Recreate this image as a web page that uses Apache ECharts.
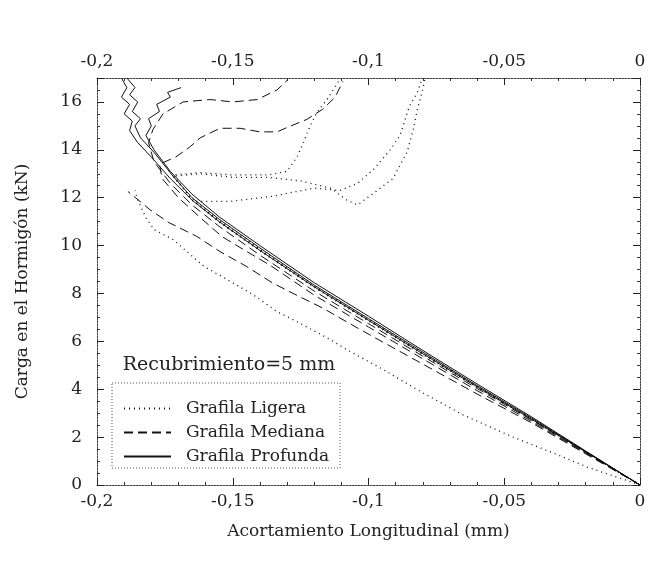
<!DOCTYPE html>
<html>
<head>
<meta charset="utf-8">
<script src="https://cdn.jsdelivr.net/npm/echarts@6/dist/echarts.min.js"></script>
<style>
  html, body { margin: 0; padding: 0; background: #fff; }
  #chart { width: 652px; height: 562px; }
</style>
</head>
<body>
<div id="chart"></div>
<script>
// ticks
var xTicks = [-0.2, -0.15, -0.1, -0.05, 0];
var yTicks = [0, 2, 4, 6, 8, 10, 12, 14, 16];
var legendNames = ['Grafila Ligera', 'Grafila Mediana', 'Grafila Profunda'];

// Grafila Ligera (dotted)
var ligera1 = [[0,0],[-0.0195,0.75],[-0.032,1.34],[-0.0468,2.0],[-0.0652,2.93],[-0.08,3.85],[-0.0958,4.9],[-0.108,5.65],[-0.114,6.07],[-0.1263,6.82],[-0.1337,7.24],[-0.1425,7.95],[-0.152,8.58],[-0.1605,9.12],[-0.1664,9.7],[-0.172,10.25],[-0.179,10.67],[-0.182,11.17],[-0.185,11.9],[-0.186,12.3]];
var ligera2 = [[0,0],[-0.02,1.39],[-0.04,2.78],[-0.06,4.12],[-0.08,5.5],[-0.1,6.9],[-0.12,8.3],[-0.14,9.85],[-0.155,11.05],[-0.165,11.95],[-0.172,12.95],[-0.162,13.05],[-0.15,12.95],[-0.137,12.95],[-0.13,13.1],[-0.1263,13.7],[-0.124,14.3],[-0.1215,15.0],[-0.119,15.56],[-0.1153,16.1],[-0.1105,16.95]];
var ligera3 = [[0,0],[-0.02,1.38],[-0.04,2.76],[-0.06,4.1],[-0.08,5.48],[-0.1,6.88],[-0.12,8.28],[-0.14,9.82],[-0.155,11.0],[-0.165,11.9],[-0.172,12.9],[-0.162,13.0],[-0.15,12.85],[-0.137,12.85],[-0.125,12.7],[-0.114,12.4],[-0.108,11.9],[-0.104,11.7],[-0.098,12.2],[-0.091,12.8],[-0.0858,13.9],[-0.0835,14.85],[-0.082,15.7],[-0.0803,16.4],[-0.0792,16.95]];
var ligera4 = [[0,0],[-0.02,1.37],[-0.04,2.74],[-0.06,4.08],[-0.08,5.45],[-0.1,6.85],[-0.12,8.25],[-0.14,9.78],[-0.155,10.98],[-0.164,11.85],[-0.151,11.85],[-0.136,12.05],[-0.12,12.4],[-0.1105,12.3],[-0.104,12.6],[-0.098,13.2],[-0.092,14.0],[-0.0884,14.6],[-0.085,15.8],[-0.082,16.4],[-0.0803,16.95]];

// Grafila Mediana (dashed)
var mediana1 = [[0,0],[-0.02,1.3],[-0.04,2.6],[-0.06,3.8],[-0.08,5.05],[-0.0976,6.15],[-0.1075,6.78],[-0.117,7.4],[-0.126,7.9],[-0.1355,8.45],[-0.1448,9.12],[-0.1547,9.75],[-0.1632,10.38],[-0.1735,10.96],[-0.1805,11.5],[-0.1886,12.26]];
var mediana2 = [[0,0],[-0.02,1.33],[-0.04,2.66],[-0.06,3.94],[-0.08,5.27],[-0.1,6.6],[-0.12,7.93],[-0.136,9.16],[-0.146,9.83],[-0.154,10.38],[-0.162,11.17],[-0.17,12.0],[-0.176,12.8],[-0.177,13.4],[-0.171,13.7],[-0.166,14.1],[-0.162,14.5],[-0.1547,14.9],[-0.1473,14.9],[-0.14,14.75],[-0.1337,14.75],[-0.129,14.98],[-0.1227,15.27],[-0.1168,15.7],[-0.1123,16.2],[-0.1094,16.86]];
var mediana3 = [[0,0],[-0.02,1.36],[-0.04,2.72],[-0.06,4.03],[-0.08,5.38],[-0.1,6.74],[-0.12,8.1],[-0.14,9.6],[-0.155,10.8],[-0.165,11.7],[-0.173,12.6],[-0.179,13.5],[-0.181,14.3],[-0.1794,14.85],[-0.1757,15.5],[-0.1683,16.0],[-0.1584,16.1],[-0.1499,16.0],[-0.141,16.1],[-0.1337,16.5],[-0.13,16.9]];

// Grafila Profunda (solid)
var profunda1 = [[0,0],[-0.02,1.4],[-0.04,2.8],[-0.06,4.15],[-0.08,5.55],[-0.1,6.95],[-0.12,8.35],[-0.14,9.9],[-0.155,11.1],[-0.165,12.0],[-0.172,12.9],[-0.179,13.9],[-0.184,14.5],[-0.186,15.0],[-0.184,15.3],[-0.187,15.6],[-0.185,16.0],[-0.188,16.3],[-0.186,16.6],[-0.189,17.0]];
var profunda2 = [[0,0],[-0.02,1.42],[-0.04,2.85],[-0.06,4.22],[-0.08,5.62],[-0.1,7.05],[-0.12,8.45],[-0.14,10.0],[-0.155,11.2],[-0.165,12.15],[-0.173,13.1],[-0.179,14.0],[-0.182,14.6],[-0.18,15.0],[-0.181,15.3],[-0.177,15.6],[-0.178,15.9],[-0.173,16.2],[-0.174,16.4],[-0.169,16.6]];
var profunda3 = [[0,0],[-0.02,1.38],[-0.04,2.75],[-0.06,4.1],[-0.08,5.48],[-0.1,6.88],[-0.12,8.28],[-0.14,9.8],[-0.155,11.0],[-0.165,11.9],[-0.173,12.8],[-0.18,13.7],[-0.185,14.3],[-0.188,14.8],[-0.187,15.2],[-0.19,15.5],[-0.188,15.9],[-0.191,16.2],[-0.189,16.6],[-0.191,17.0]];

var FONT = '"DejaVu Serif", "Liberation Serif", serif';
var INK = '#222';

function fmt(v) {
  return String(+v.toFixed(2)).replace('.', ',');
}

function line(name, data, type, width) {
  return {
    name: name,
    type: 'line',
    data: data,
    symbol: 'none',
    smooth: false,
    xAxisIndex: 0,
    yAxisIndex: 0,
    lineStyle: { color: '#111', width: width, type: type },
    itemStyle: { color: '#111' }
  };
}

var dotted = [1, 4];
var dashed = [9, 5];

var series = [
  line(legendNames[0], ligera1, dotted, 1.3),
  line(legendNames[0], ligera2, dotted, 1.3),
  line(legendNames[0], ligera3, dotted, 1.3),
  line(legendNames[0], ligera4, dotted, 1.3),
  line(legendNames[1], mediana1, dashed, 1),
  line(legendNames[1], mediana2, dashed, 1),
  line(legendNames[1], mediana3, dashed, 1),
  line(legendNames[2], profunda1, 'solid', 1),
  line(legendNames[2], profunda2, 'solid', 1),
  line(legendNames[2], profunda3, 'solid', 1)
];

var axisLineStyle = { color: '#444', width: 1, type: [2, 1] };

function xAxis(pos, withName) {
  return {
    type: 'value',
    position: pos,
    min: xTicks[0],
    max: xTicks[xTicks.length - 1],
    interval: 0.05,
    axisLine: { show: true, onZero: false, lineStyle: axisLineStyle },
    axisTick: { show: true, inside: true, length: 7, lineStyle: { color: '#222' } },
    minorTick: { show: true, splitNumber: 5, length: 3, lineStyle: { color: '#333' } },
    splitLine: { show: false },
    axisLabel: { show: true, formatter: fmt, fontFamily: FONT, fontSize: 17, color: INK, margin: 8 },
    name: withName ? 'Acortamiento Longitudinal (mm)' : '',
    nameLocation: 'middle',
    nameGap: 38,
    nameTextStyle: { fontFamily: FONT, fontSize: 17, color: INK }
  };
}

function yAxis(pos, withLabels) {
  return {
    type: 'value',
    position: pos,
    min: yTicks[0],
    max: 17,
    interval: 2,
    axisLine: { show: true, onZero: false, lineStyle: axisLineStyle },
    axisTick: { show: true, inside: true, length: 7, lineStyle: { color: '#222' } },
    minorTick: { show: true, splitNumber: 4, length: 3, lineStyle: { color: '#333' } },
    splitLine: { show: false },
    axisLabel: { show: withLabels, showMaxLabel: false, fontFamily: FONT, fontSize: 17, color: INK, margin: 15 },
    name: withLabels ? 'Carga en el Hormigón (kN)' : '',
    nameLocation: 'middle',
    nameGap: 66,
    nameTextStyle: { fontFamily: FONT, fontSize: 17, color: INK }
  };
}

var chart = echarts.init(document.getElementById('chart'), null, { renderer: 'canvas' });
chart.setOption({
  animation: false,
  backgroundColor: '#fff',
  grid: { left: 97, right: 12, top: 78, bottom: 77 },
  xAxis: [xAxis('bottom', true), xAxis('top', false)],
  yAxis: [yAxis('left', true), yAxis('right', false)],
  legend: {
    data: legendNames,
    orient: 'vertical',
    left: 123,
    top: 400,
    padding: 0,
    itemGap: 7,
    itemWidth: 47,
    itemHeight: 14,
    selectedMode: false,
    itemStyle: { opacity: 0, borderWidth: 0 },
    textStyle: { fontFamily: FONT, fontSize: 17, color: INK, padding: [0, 0, 0, 10] }
  },
  graphic: [
    {
      type: 'rect',
      shape: { x: 112, y: 383, width: 228, height: 85 },
      style: { fill: 'none', stroke: '#555', lineWidth: 1, lineDash: [1, 2] },
      z: 10
    },
    {
      type: 'text',
      x: 229,
      y: 365,
      style: { text: 'Recubrimiento=5 mm', font: '19px ' + FONT, fill: INK, align: 'center', verticalAlign: 'middle' },
      z: 10
    }
  ],
  series: series
});
</script>
</body>
</html>
